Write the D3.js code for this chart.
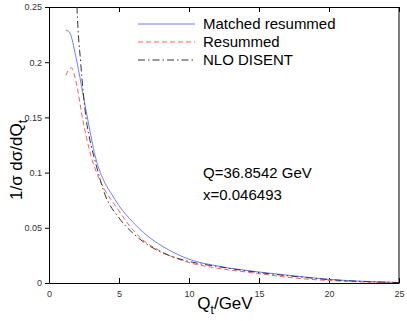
<!DOCTYPE html>
<html>
<head>
<meta charset="utf-8">
<script src="https://cdn.jsdelivr.net/npm/d3@7"></script>
<style>
  body { margin: 0; background: #fff; }
  text { font-family: "Liberation Sans", Arial, sans-serif; }
</style>
</head>
<body>
<script>
// values
var qtMatched = [1.2, 1.4, 1.6, 1.8, 2.0, 2.4, 2.8, 3.3, 3.9, 4.4, 5.0, 6.0, 7.0, 8.0, 9.0, 10, 12, 15, 18, 20, 22, 25];
var matched   = [0.229, 0.228, 0.223, 0.212, 0.200, 0.173, 0.146, 0.115, 0.093, 0.082, 0.070, 0.055, 0.043, 0.034, 0.027, 0.0215, 0.0155, 0.010, 0.0058, 0.0033, 0.0018, 0.0005];

var qtResum = [1.2, 1.4, 1.6, 1.8, 2.0, 2.4, 3.0, 3.5, 4.0, 4.8, 5.8, 6.7, 7.8, 10, 12, 15, 17, 20, 22, 25];
var resum   = [0.188, 0.193, 0.195, 0.189, 0.178, 0.149, 0.115, 0.097, 0.084, 0.069, 0.051, 0.039, 0.030, 0.0185, 0.0135, 0.0085, 0.0052, 0.0022, 0.0011, 0.0003];

var qtNlo = [1.9, 2.0, 2.26, 2.64, 3.0, 3.24, 4.0, 5.0, 6.0, 7.0, 8.0, 10, 12, 15, 18, 20, 22, 25];
var nlo   = [0.29, 0.25, 0.200, 0.150, 0.125, 0.113, 0.080, 0.059, 0.045, 0.035, 0.028, 0.0195, 0.0150, 0.0095, 0.0054, 0.0031, 0.0016, 0.0004];

var xTicks = [0, 5, 10, 15, 20, 25];
var yTicks = [0, 0.05, 0.1, 0.15, 0.2, 0.25];
var legendNames = ["Matched resummed", "Resummed", "NLO DISENT"];

var margin = {top: 7, right: 8, bottom: 38, left: 49},
    W = 407, H = 321,
    w = W - margin.left - margin.right,
    h = H - margin.top - margin.bottom;

var svg = d3.select('body').append('svg')
    .attr('width', W)
    .attr('height', H);

var g = svg.append('g')
    .attr('transform', 'translate(' + margin.left + ',' + margin.top + ')');

var x = d3.scaleLinear().domain([0, 25]).range([0, w]);
var y = d3.scaleLinear().domain([0, 0.25]).range([h, 0]);

g.append('clipPath').attr('id', 'clip')
  .append('rect').attr('width', w).attr('height', h);

// axes
var xFmt = d3.format('d');
var yFmt = function (d) { return d === 0 ? '0' : String(+d.toFixed(2)); };

g.append('g').attr('transform', 'translate(0,' + h + ')')
  .call(d3.axisBottom(x).tickValues(xTicks).tickFormat(xFmt).tickSizeInner(-5).tickSizeOuter(0).tickPadding(8));
g.append('g')
  .call(d3.axisTop(x).tickValues(xTicks).tickFormat('').tickSizeInner(-5).tickSizeOuter(0));
g.append('g')
  .call(d3.axisLeft(y).tickValues(yTicks).tickFormat(yFmt).tickSizeInner(4).tickSizeOuter(0).tickPadding(3));

g.selectAll('.domain').attr('stroke', '#000');
g.selectAll('.tick line').attr('stroke', '#000');
g.selectAll('.tick text').attr('font-size', 9).attr('fill', '#333')
  .attr('font-family', '"Liberation Sans", Arial, sans-serif');

// frame (right side)
g.append('line').attr('x1', w).attr('x2', w).attr('y1', 0).attr('y2', h).attr('stroke', '#000');

// curves
var line = d3.line()
  .x(function (d) { return x(d[0]); })
  .y(function (d) { return y(d[1]); })
  .curve(d3.curveMonotoneX);

var series = [
  {qt: qtMatched, v: matched, color: '#6f7ff2', dash: null},
  {qt: qtResum, v: resum, color: '#f26262', dash: '5,3'},
  {qt: qtNlo, v: nlo, color: '#333', dash: '7,3,1.5,3'}
];

var curves = g.append('g').attr('clip-path', 'url(#clip)');
series.forEach(function (s) {
  curves.append('path')
    .datum(d3.zip(s.qt, s.v))
    .attr('d', line)
    .attr('fill', 'none')
    .attr('stroke', s.color)
    .attr('stroke-width', 1)
    .attr('stroke-dasharray', s.dash);
});

// legend
var leg = svg.append('g');
legendNames.forEach(function (name, i) {
  var ly = 24 + i * 18;
  leg.append('line')
    .attr('x1', 138).attr('x2', 195).attr('y1', ly).attr('y2', ly)
    .attr('stroke', series[i].color)
    .attr('stroke-dasharray', series[i].dash);
  leg.append('text')
    .attr('x', 203).attr('y', ly + 5)
    .attr('font-size', 15)
    .text(name);
});

// annotation
svg.append('text').attr('x', 203).attr('y', 178).attr('font-size', 15).text('Q=36.8542 GeV');
svg.append('text').attr('x', 203).attr('y', 200).attr('font-size', 15).text('x=0.046493');

// axis titles
var xt = svg.append('text')
  .attr('x', 225).attr('y', 309)
  .attr('text-anchor', 'middle')
  .attr('font-size', 17);
xt.append('tspan').text('Q');
xt.append('tspan').attr('font-size', 12).attr('dy', 5).text('t');
xt.append('tspan').attr('dy', -5).text('/GeV');

var yt = svg.append('text')
  .attr('transform', 'translate(22,160) rotate(-90)')
  .attr('text-anchor', 'middle')
  .attr('font-size', 17);
yt.append('tspan').text('1/σ dσ/dQ');
yt.append('tspan').attr('font-size', 12).attr('dy', 5).text('t');
</script>
</body>
</html>
